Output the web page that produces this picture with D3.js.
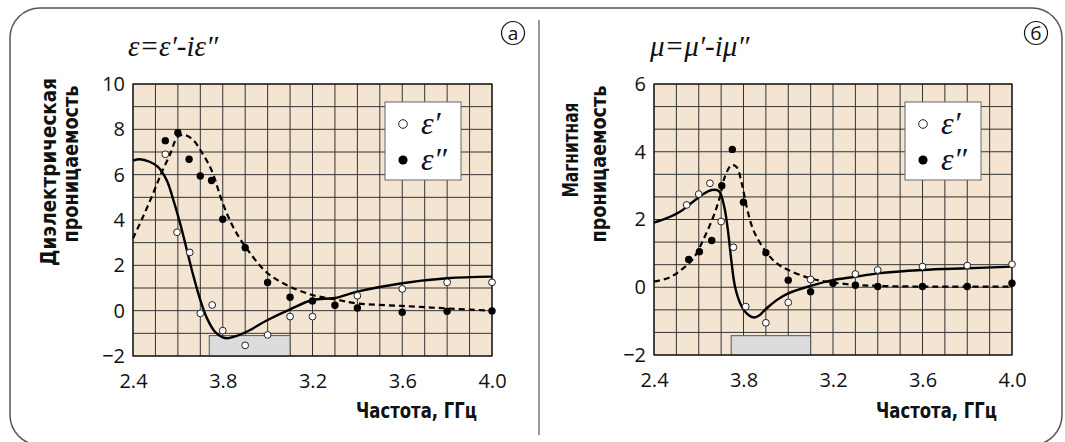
<!DOCTYPE html>
<html><head><meta charset="utf-8">
<script src="https://cdn.jsdelivr.net/npm/d3@7"></script>
<style>body{margin:0;background:#fff}svg{display:block}</style>
</head><body>
<svg id="c" width="1065" height="442"></svg>
<script>
// ---------- data ----------
const xTickValues = [2.4, 2.8, 3.2, 3.6, 4.0];
const xTickLabels = ["2.4", "3.8", "3.2", "3.6", "4.0"];
const epsYTicks = [-2, 0, 2, 4, 6, 8, 10];
const muYTicks = [-2, 0, 2, 4, 6];

// ε' measured (open circles)
const epsPrimePts = [[2.544,6.90],[2.596,3.46],[2.653,2.57],[2.70,-0.12],[2.753,0.25],[2.80,-0.88],[2.90,-1.53],[3.0,-1.07],[3.1,-0.26],[3.2,-0.26],[3.4,0.66],[3.6,0.96],[3.8,1.25],[4.0,1.25]];
// ε'' measured (filled circles)
const epsDoublePts = [[2.544,7.5],[2.6,7.85],[2.65,6.68],[2.70,5.94],[2.75,5.74],[2.80,4.03],[2.90,2.78],[3.0,1.24],[3.1,0.59],[3.2,0.43],[3.3,0.24],[3.4,0.12],[3.6,-0.07],[3.8,-0.03],[4.0,-0.01]];
// ε' fit (solid)
const epsPrimeFit = [[2.4,6.62],[2.43,6.68],[2.474,6.57],[2.51,6.35],[2.55,5.76],[2.58,4.88],[2.61,3.85],[2.64,2.68],[2.67,1.5],[2.70,0.47],[2.73,-0.34],[2.765,-0.93],[2.80,-1.18],[2.82,-1.22],[2.86,-1.12],[2.906,-0.93],[3.0,-0.41],[3.1,0.06],[3.2,0.47],[3.3,0.56],[3.4,0.84],[3.6,1.21],[3.8,1.43],[4.0,1.5]];
// ε'' fit (dashed)
const epsDoubleFit = [[2.4,3.19],[2.445,4.15],[2.49,5.18],[2.526,6.06],[2.564,6.87],[2.6,7.68],[2.63,7.75],[2.668,7.53],[2.705,7.01],[2.75,6.2],[2.80,4.74],[2.846,3.7],[2.906,2.75],[3.0,1.65],[3.1,1.06],[3.2,0.69],[3.3,0.5],[3.4,0.32],[3.6,0.21],[3.8,0.1],[4.0,0.0]];

// μ' measured
const muPrimePts = [[2.546,2.43],[2.6,2.75],[2.65,3.07],[2.70,1.94],[2.755,1.18],[2.81,-0.57],[2.90,-1.05],[3.0,-0.45],[3.1,0.23],[3.3,0.39],[3.4,0.51],[3.6,0.61],[3.8,0.64],[4.0,0.68]];
// μ'' measured
const muDoublePts = [[2.555,0.82],[2.603,1.05],[2.658,1.38],[2.703,3.0],[2.75,4.07],[2.80,2.51],[2.90,1.02],[3.0,0.21],[3.1,-0.13],[3.2,0.12],[3.3,0.06],[3.4,0.02],[3.6,0.02],[3.8,0.02],[4.0,0.12]];
// μ' fit (solid)
const muPrimeFit = [[2.4,1.91],[2.457,2.04],[2.516,2.23],[2.576,2.53],[2.62,2.75],[2.658,2.87],[2.688,2.85],[2.70,2.72],[2.717,2.28],[2.732,1.59],[2.747,0.71],[2.762,0.02],[2.785,-0.47],[2.814,-0.77],[2.844,-0.89],[2.866,-0.85],[2.904,-0.62],[2.948,-0.38],[3.0,-0.18],[3.1,0.04],[3.2,0.21],[3.3,0.31],[3.4,0.41],[3.6,0.51],[3.8,0.56],[4.0,0.61]];
// μ'' fit (dashed)
const muDoubleFit = [[2.4,0.17],[2.47,0.29],[2.53,0.56],[2.576,0.85],[2.62,1.4],[2.665,2.08],[2.695,2.68],[2.717,3.27],[2.747,3.61],[2.77,3.54],[2.792,3.07],[2.814,2.38],[2.844,1.69],[2.9,1.05],[2.948,0.71],[3.0,0.51],[3.1,0.26],[3.2,0.14],[3.3,0.07],[3.4,0.04],[3.6,0.02],[4.0,0.02]];

// shaded band [f0, f1, vTop]
const epsBand = [2.74, 3.1, -1.1];
const muBand = [2.745, 3.1, -1.43];

const legendLabels = ["ε′", "ε″"];

// ---------- drawing ----------
const svg = d3.select("#c");
const sansBold = "'DejaVu Sans Condensed','DejaVu Sans',sans-serif";
const sans = "'Open Sans','Noto Sans',sans-serif";
const serif = "'Liberation Serif','DejaVu Serif',serif";

// outer frame
svg.append("rect").attr("x",10).attr("y",8).attr("width",1052).attr("height",437)
  .attr("rx",30).attr("ry",30).attr("fill","none").attr("stroke","#555").attr("stroke-width",1.5);
svg.append("line").attr("x1",539).attr("x2",539).attr("y1",20).attr("y2",435)
  .attr("stroke","#333").attr("stroke-width",1);

function panel(o){
  const g = svg.append("g");
  const x = d3.scaleLinear().domain([2.4,4.0]).range([o.x0,o.x1]);
  const y = d3.scaleLinear().domain(o.yDomain).range([o.y1,o.y0]);
  g.append("rect").attr("x",o.x0).attr("y",o.y0).attr("width",o.x1-o.x0).attr("height",o.y1-o.y0).attr("fill","#f3e5d2");
  // grid
  const vx = d3.range(0,17).map(i=>2.4+i*0.1);
  g.selectAll(".gv").data(vx).join("line").attr("x1",d=>x(d)).attr("x2",d=>x(d)).attr("y1",o.y0).attr("y2",o.y1)
    .attr("stroke","#333").attr("stroke-width",1);
  const hy = d3.range(0,13).map(i=>o.yDomain[0]+i*(o.yDomain[1]-o.yDomain[0])/12);
  g.selectAll(".gh").data(hy).join("line").attr("x1",o.x0).attr("x2",o.x1).attr("y1",d=>y(d)).attr("y2",d=>y(d))
    .attr("stroke","#333").attr("stroke-width",1);
  // band
  g.append("rect").attr("x",x(o.band[0])).attr("width",x(o.band[1])-x(o.band[0]))
    .attr("y",y(o.band[2])).attr("height",y(o.yDomain[0])-y(o.band[2]))
    .attr("fill","#dcdcdc").attr("stroke","#555").attr("stroke-width",1);
  g.append("rect").attr("x",o.x0).attr("y",o.y0).attr("width",o.x1-o.x0).attr("height",o.y1-o.y0)
    .attr("fill","none").attr("stroke","#111").attr("stroke-width",1.2);
  // curves
  const line = d3.line().x(d=>x(d[0])).y(d=>y(d[1])).curve(d3.curveCatmullRom.alpha(0.5));
  g.append("path").attr("d",line(o.dFit)).attr("fill","none").attr("stroke","#000").attr("stroke-width",2.2).attr("stroke-dasharray","6,4");
  g.append("path").attr("d",line(o.pFit)).attr("fill","none").attr("stroke","#000").attr("stroke-width",2.4);
  // points
  g.selectAll(".pp").data(o.pPts).join("circle").attr("cx",d=>x(d[0])).attr("cy",d=>y(d[1])).attr("r",3.4)
    .attr("fill","#fff").attr("stroke","#222").attr("stroke-width",1);
  g.selectAll(".dp").data(o.dPts).join("circle").attr("cx",d=>x(d[0])).attr("cy",d=>y(d[1])).attr("r",3.7)
    .attr("fill","#000");
  // axes
  const xa = d3.axisBottom(x).tickValues(xTickValues).tickSize(0).tickFormat((d,i)=>xTickLabels[i]);
  const gx = g.append("g").attr("transform",`translate(0,${o.y1})`).call(xa);
  gx.select(".domain").remove();
  gx.selectAll("text").attr("dy",0).attr("y",32).attr("font-family",sans).attr("font-size",20).attr("fill","#111");
  const ya = d3.axisLeft(y).tickValues(o.yTicks).tickSize(0).tickPadding(8);
  const gy = g.append("g").attr("transform",`translate(${o.x0},0)`).call(ya);
  gy.select(".domain").remove();
  gy.selectAll("text").attr("font-family",sans).attr("font-size",20).attr("fill","#111");
  // legend
  g.append("rect").attr("x",o.lx).attr("y",102).attr("width",76).attr("height",78).attr("fill","#fff").attr("stroke","#666").attr("stroke-width",1);
  g.append("circle").attr("cx",o.lx+18).attr("cy",124).attr("r",4.3).attr("fill","#fff").attr("stroke","#222").attr("stroke-width",1);
  g.append("circle").attr("cx",o.lx+18).attr("cy",160).attr("r",4.6).attr("fill","#000");
  legendLabels.forEach((t,i)=>{
    g.append("text").attr("x",o.lx+36).attr("y",134+i*36).text(t).attr("font-family",serif).attr("font-style","italic").attr("font-size",32).attr("fill","#111");
  });
  // title
  g.append("text").attr("x",o.tx).attr("y",56).text(o.title).attr("font-family",serif).attr("font-style","italic").attr("font-size",29).attr("fill","#111");
  // circled letter
  g.append("circle").attr("cx",o.cx).attr("cy",33).attr("r",11.5).attr("fill","none").attr("stroke","#111").attr("stroke-width",1.2);
  g.append("text").attr("x",o.cx).attr("y",40).attr("text-anchor","middle").text(o.letter).attr("font-family",sans).attr("font-size",19).attr("fill","#111");
  // y label
  o.ylabel.forEach((t,i)=>{
    g.append("text").attr("transform",`translate(${o.ylx[i]},${o.yly[i]}) rotate(-90)`).attr("text-anchor","middle")
      .text(t).attr("font-family",sansBold).attr("font-weight","bold").attr("font-size",21)
      .attr("textLength",o.ylen[i]).attr("lengthAdjust","spacingAndGlyphs").attr("fill","#111");
  });
  // x label
  g.append("text").attr("x",o.x1-15).attr("y",418).attr("text-anchor","end").text("Частота, ГГц")
    .attr("font-family",sansBold).attr("font-weight","bold").attr("font-size",21)
    .attr("textLength",121).attr("lengthAdjust","spacingAndGlyphs").attr("fill","#111");
}

panel({x0:133,x1:492,y0:84,y1:356,yDomain:[-2,10],yTicks:epsYTicks,band:epsBand,
  pPts:epsPrimePts,dPts:epsDoublePts,pFit:epsPrimeFit,dFit:epsDoubleFit,lx:385,
  title:"ε=ε′-iε″",tx:128,cx:513,letter:"а",ylabel:["Диэлектрическая","проницаемость"],
  ylx:[56,78],yly:[172,164],ylen:[188,157]});
panel({x0:654,x1:1012,y0:84,y1:355,yDomain:[-2,6],yTicks:muYTicks,band:muBand,
  pPts:muPrimePts,dPts:muDoublePts,pFit:muPrimeFit,dFit:muDoubleFit,lx:905,
  title:"μ=μ′-iμ″",tx:650,cx:1036,letter:"б",ylabel:["Магнитная","проницаемость"],
  ylx:[578,606],yly:[150,164],ylen:[95,157]});
</script>
</body></html>
